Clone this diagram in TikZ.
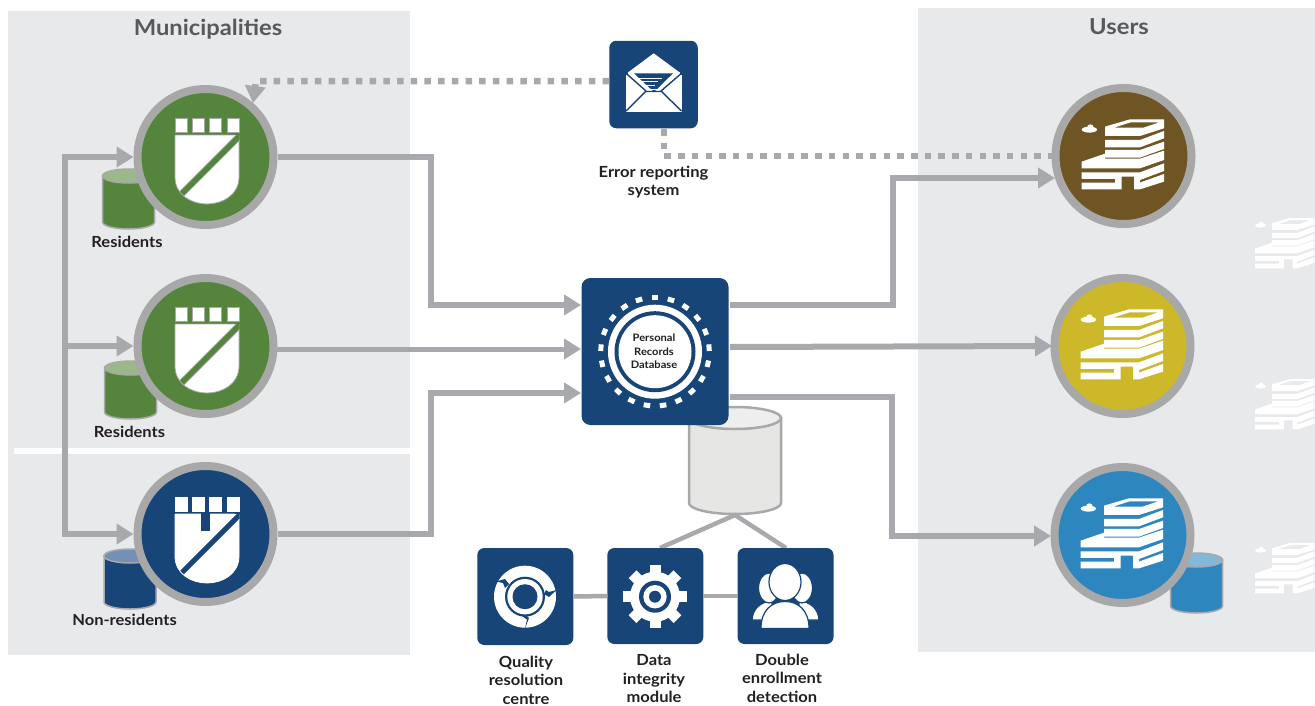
\documentclass[tikz,border=0pt]{standalone}
\usepackage{fontspec}
\setmainfont{Lato}[FakeStretch=1.08]
\usetikzlibrary{arrows.meta,calc}
\definecolor{panel}{HTML}{E8E9EB}
\definecolor{ringc}{HTML}{A8A8A9}
\definecolor{linec}{HTML}{A8A9AD}
\definecolor{navy}{HTML}{174578}
\definecolor{navytop}{HTML}{7291B5}
\definecolor{grn}{HTML}{55853C}
\definecolor{grntop}{HTML}{9BB888}
\definecolor{brn}{HTML}{6F5523}
\definecolor{yel}{HTML}{CDB82A}
\definecolor{sky}{HTML}{2E86BF}
\definecolor{skytop}{HTML}{82B9DB}
\definecolor{head}{HTML}{58595B}
\definecolor{lab}{HTML}{231F20}
\definecolor{drumbody}{HTML}{E6E6E5}
\definecolor{drumtop}{HTML}{EFEEEE}
\tikzset{
  disc/.style={circle,draw=ringc,line width=8pt,minimum size=136pt,inner sep=0pt,outer sep=4pt,fill=#1},
  tile/.style={rectangle,rounded corners=7pt,fill=navy,inner sep=0pt,outer sep=0pt},
  flow/.style={draw=linec,line width=6pt,-{Triangle[length=17pt,width=20pt]}},
  flowplain/.style={draw=linec,line width=6pt,line cap=rect},
  dots/.style={draw=linec,line width=6.5pt,dash pattern=on 6.5pt off 7.2pt},
  link/.style={draw=linec,line width=4.5pt},
  title/.style={font=\fontsize{22}{25}\selectfont\bfseries,text=head,inner sep=0pt},
  lbl/.style={font=\fontsize{15.3}{18.5}\selectfont\bfseries,text=lab,align=center,inner sep=0pt},
  dblbl/.style={font=\fontsize{10.3}{13.5}\selectfont\bfseries,text=lab,align=center,inner sep=0pt},
}
% cylinder: cx, top-ellipse cy, rx, ry, bottom y of wall, body, top, line width
\newcommand\drumshape[8]{%
  \draw[draw=ringc,line width=#8pt,fill=#6]
    (#1-#3,#2) -- (#1-#3,#5)
    arc[start angle=180,end angle=360,x radius=#3,y radius=-#4]
    -- (#1+#3,#2) -- cycle;
  \draw[draw=ringc,line width=#8pt,fill=#7] (#1,#2) ellipse[x radius=#3,y radius=#4];
}
% shield: cx, cy, fill, outline
\newcommand\shieldicon[4]{%
  \begin{scope}[shift={(#1,#2)}]
    \foreach \sx in {-30.5,-13.5,3.5,21.5}
      \draw[draw=#4,line width=.8pt,fill=white] (\sx,-39) rectangle ++(12.5,14);
    \begin{scope}
      \clip (-30.5,-22) -- (33.5,-22) -- (33.5,20) .. controls (33.5,38) and (17,47) .. (1.5,47)
        .. controls (-14,47) and (-30.5,38) .. (-30.5,20) -- cycle;
      \fill[white] (-40,-30) rectangle (45,55);
      \draw[#4,line width=6.8pt] (40,-27) -- (-30,43);
      \draw[#3,line width=5.2pt] (40,-27) -- (-30,43);
    \end{scope}
    \draw[#4,line width=.8pt] (-30.5,-22) -- (29,-22)
      (33.5,-17) -- (33.5,20) .. controls (33.5,38) and (17,47) .. (1.5,47)
        .. controls (-14,47) and (-30.5,38) .. (-30.5,20) -- (-30.5,-22);
  \end{scope}%
}
% building: left, top, scale
\newcommand\towericon[3]{%
  \begin{scope}[shift={(#1,#2)},x=#3pt,y=-#3pt]
    \fill[white,even odd rule] (70,22) -- (145,0) -- (247,0) -- (247,27) -- (175,50) -- (70,50) -- cycle
      (97,25) -- (147,9) -- (233,9) -- (185,25) -- cycle;
    \fill[white] (70,62) -- (175,62) -- (247,35) -- (247,57) -- (175,84) -- (70,84) -- cycle;
    \fill[white] (70,92) -- (175,92) -- (247,67) -- (247,89) -- (175,115) -- (70,115) -- cycle;
    \fill[white] (0,127) -- (70,103) -- (70,118) -- (175,118) -- (247,94) -- (247,122) -- (175,147) -- (0,147) -- cycle;
    \fill[white] (0,159) -- (175,159) -- (247,132) -- (247,155) -- (175,182) -- (175,210) -- (157,210) -- (157,172) -- (120,172) -- (120,210) -- (0,210) -- (0,190) -- (100,190) -- (100,179) -- (0,179) -- cycle;
    \fill[white] (180,188) -- (247,164) -- (247,187) -- (175,210) -- (175,190) -- cycle;
    \fill[white] (23,31) ellipse[x radius=23,y radius=9];
    \fill[white] (26,25) circle[radius=10];
  \end{scope}%
}
\begin{document}
\begin{tikzpicture}[x=1pt,y=-1pt]
\useasboundingbox (0,0) rectangle (1315,705);
% panels
\fill[panel] (8,11) rectangle (410,655);
\fill[white] (14,448) rectangle (410,454);
\fill[panel] (918,8) rectangle (1315,652);
\node[title] (tmun) at (208,29) {Municipalities};
\node[title] (tusr) at (1119,27) {Users};
% ghost buildings
\towericon{1255}{218}{.24}
\towericon{1255}{379}{.24}
\towericon{1255}{543}{.24}
% cylinders
\drumshape{128.5}{176}{26}{7}{222}{grn}{grntop}{1.5}
\drumshape{130.5}{368}{26}{7}{412}{grn}{grntop}{1.5}
\drumshape{130}{556}{26}{7}{602}{navy}{navytop}{1.5}
\drumshape{1196.5}{560}{26}{7}{606}{sky}{skytop}{1.5}
\drumshape{735}{418}{46}{11}{503}{drumbody}{drumtop}{2.5}
% named points
\coordinate (feedtop) at (64.5,157);
\coordinate (feedmid) at (64.5,346);
\coordinate (feedbot) at (64.5,534);
\coordinate (ja) at (431,157);
\coordinate (jc) at (431,534);
\coordinate (dbina) at (581,305);
\coordinate (dbinb) at (581,349);
\coordinate (dbinc) at (581,393);
\coordinate (dbouta) at (730,305);
\coordinate (dboutb) at (730,347);
\coordinate (dboutc) at (730,397);
\coordinate (jd) at (893,305);
\coordinate (je) at (892,397);
\coordinate (ua) at (1055,178);
\coordinate (ub) at (1052,346);
\coordinate (uc) at (1051,536);
\coordinate (mb) at (277,349);
% discs
\node[disc=grn] (ma) at (205.5,157) {};
\node[disc=grn] (mm) at (205.5,346) {};
\node[disc=navy] (mc) at (205.5,534) {};
\node[disc=brn] (ca) at (1123.5,156) {};
\node[disc=yel] (cb) at (1122.5,346) {};
\node[disc=sky] (cc) at (1122.5,535) {};
\shieldicon{205.5}{157}{grn}{ringc}
\shieldicon{205.5}{346}{grn}{ringc}
\shieldicon{205.5}{536}{navy}{white}
\fill[navy] (201,512) rectangle (210,530.5);
\towericon{1081.7}{119.3}{.3333}
\towericon{1080.7}{309.3}{.3333}
\towericon{1080.7}{498.3}{.3333}
% connectors
\draw[flowplain] (feedtop) -- (feedbot);
\draw[flow] (feedtop) -- (ma.west);
\draw[flow] (feedmid) -- (mm.west);
\draw[flow] (feedbot) -- (mc.west);
\draw[flow] (ma.east) -- (ja) -- (ja |- dbina) -- (dbina);
\draw[flow,line width=5pt] (mb) -- (dbinb);
\draw[flow] (mc.east) -- (jc) -- (jc |- dbinc) -- (dbinc);
\draw[flow] (dbouta) -- (jd) -- (jd |- ua) -- (ua);
\draw[flow] (dboutb) -- (ub);
\draw[flow] (dboutc) -- (je) -- (je |- uc) -- (uc);
% database tile
\node[tile,minimum width=147pt,minimum height=147pt,rounded corners=9pt] (db) at (655,351.5) {};
\foreach \k in {0,...,20}
  \fill[white,rotate around={\k*17.143:(655,351.7)}] (651.7,295) rectangle (658.3,300);
\fill[white] (655,351.7) circle[radius=47];
\fill[navy] (655,351.7) circle[radius=40.5];
\fill[white] (655,351.7) circle[radius=36.5];
\node[dblbl] (dbt) at (654,351.5) {Personal\\Records\\Database};
% error tile
\node[tile,minimum width=88.5pt,minimum height=87.5pt] (err) at (653.5,84.5) {};
\fill[white] (653.7,53.3) -- (679.3,72.2) -- (628.3,72.2) -- cycle;
\fill[white] (626,75) -- (682,75) -- (682,111.7) -- (626,111.7) -- cycle;
\fill[white] (628,72) rectangle (680,76);
\fill[navy] (634,73.3) -- (673,73.3) -- (654,92) -- cycle;
\foreach \xa/\xb/\yy in {637/662/78,640/658/81.8,643/655/85,647/657/89}
  \draw[white,line width=1pt] (\xa,\yy) -- (\xb,\yy);
\draw[navy,line width=1.4pt] (626,73.3) -- (646,91) -- (626,111) (681.5,73.3) -- (661,91) -- (681.5,111) (646,91.5) -- (661,91.5);
\coordinate (erra) at (609,81);
\coordinate (errb) at (256,81);
\coordinate (errtip) at (253,103);
\coordinate (errc) at (664,129);
\coordinate (errd) at (664,156);
\coordinate (erre) at (1052,156);
\draw[dots,-{Triangle[length=17pt,width=20pt]}] (erra) -- (errb) -- (errtip);
\draw[dots] (errc) -- (errd) -- (erre);
\node[lbl] (errt) at (653.5,182) {Error reporting\\system};
% tool tiles
\coordinate (cyl) at (735,515);
\coordinate (jf) at (660,548);
\coordinate (jg) at (786,548);
\draw[link] (jf) -- (cyl) -- (jg);
\node[tile,minimum width=96pt,minimum height=97pt] (qa) at (525.3,596.5) {};
\node[tile,minimum width=96pt,minimum height=96pt] (qb) at (655.3,596) {};
\node[tile,minimum width=96pt,minimum height=96pt] (qc) at (785.5,596) {};
\draw[link] (qa.east) -- (qb.west);
\draw[link] (qb.east) -- (qc.west);
% quality icon
\fill[white] (525,596.7) circle[radius=31];
\fill[navy] (525,596.7) circle[radius=20];
\fill[white] (525,596.7) circle[radius=17.7];
\fill[navy] (525,596.7) circle[radius=12.5];
\fill[navy] (496,581.5) -- (505,579) -- (509,584) -- (505,588) -- (503,583) -- cycle;
\fill[navy] (556.5,590) -- (549,597) -- (544,594) -- (546,590) -- (549,592) -- cycle;
\fill[navy] (525,628.5) -- (529,618) -- (526,615) -- (522,616) -- (527,619.5) -- cycle;
% gear icon
\fill[white] (655,596.7) circle[radius=25];
\foreach \a in {0,45,...,315}
  \fill[white,rotate around={\a:(655,596.7)}] (649.5,565) rectangle (660.5,575);
\fill[navy] (655,596.7) circle[radius=16];
\fill[white] (655,596.7) circle[radius=11.7];
\fill[navy] (655,596.7) circle[radius=6];
% people icon
\fill[white,draw=navy,line width=1.2pt] (752,620) .. controls (753,608) and (760,603) .. (772,600) -- (772,620) -- cycle;
\fill[white,draw=navy,line width=1.2pt] (819,620) .. controls (818,608) and (811,603) .. (799,600) -- (799,620) -- cycle;
\fill[white,draw=navy,line width=1.2pt] (769,588) ellipse[x radius=10.5,y radius=15];
\fill[white,draw=navy,line width=1.2pt] (802,588) ellipse[x radius=10.5,y radius=15];
\fill[white,draw=navy,line width=1.2pt] (761,628.5) .. controls (761,610) and (772,601.5) .. (785,601.5) .. controls (798,601.5) and (809,610) .. (809,628.5) -- cycle;
\fill[white,draw=navy,line width=1.2pt] (785,582) ellipse[x radius=16,y radius=18.5];
% labels
\node[lbl] (la) at (127,241.5) {Residents};
\node[lbl] (lb) at (129.5,431.5) {Residents};
\node[lbl] (lc) at (124.5,619.5) {Non-residents};
\node[lbl] (lq) at (526,680) {Quality\\resolution\\centre};
\node[lbl] (ld) at (654,679) {Data\\integrity\\module};
\node[lbl] (le) at (782,678) {Double\\enrollment\\detection};
\end{tikzpicture}
\end{document}
